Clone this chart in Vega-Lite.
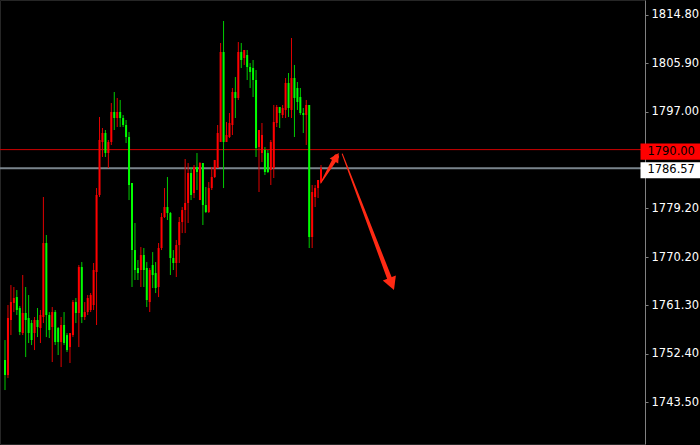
{
  "$schema": "https://vega.github.io/schema/vega-lite/v6.json",
  "width": 645,
  "height": 444,
  "autosize": {"type": "none"},
  "padding": {"left": 0, "top": 0, "right": 55, "bottom": 1},
  "background": "#000000",
  "config": {
    "view": {"stroke": "#262626"},
    "axisY": {
      "orient": "right", "title": null, "grid": false,
      "labelColor": "#ffffff", "labelFont": "DejaVu Sans", "labelFontSize": 11.5,
      "labelPadding": 3, "labelOverlap": false, "labelFlush": false, "labelBaseline": "middle",
      "tickColor": "#808080", "tickSize": 3, "tickWidth": 1,
      "domainColor": "#808080", "domainWidth": 1
    }
  },
  "datasets": {
    "candles": [
      {"i":0,"o":1751.24,"h":1754.92,"l":1745.71,"c":1748.47},
      {"i":1,"o":1748.47,"h":1761.37,"l":1747.92,"c":1758.98},
      {"i":2,"o":1758.61,"h":1765.05,"l":1755.84,"c":1761.92},
      {"i":3,"o":1761.74,"h":1764.69,"l":1760.08,"c":1762.66},
      {"i":4,"o":1762.84,"h":1764.13,"l":1759.53,"c":1760.45},
      {"i":5,"o":1760.82,"h":1761.19,"l":1755.84,"c":1756.40},
      {"i":6,"o":1756.21,"h":1766.90,"l":1755.84,"c":1759.90},
      {"i":7,"o":1759.90,"h":1764.69,"l":1751.79,"c":1758.61},
      {"i":8,"o":1758.98,"h":1763.21,"l":1754.37,"c":1756.21},
      {"i":9,"o":1758.05,"h":1758.61,"l":1754.00,"c":1754.92},
      {"i":10,"o":1756.21,"h":1759.16,"l":1753.08,"c":1758.61},
      {"i":11,"o":1758.61,"h":1760.82,"l":1755.47,"c":1757.32},
      {"i":12,"o":1757.13,"h":1760.45,"l":1754.37,"c":1759.53},
      {"i":13,"o":1759.16,"h":1781.27,"l":1758.05,"c":1772.79},
      {"i":14,"o":1772.79,"h":1774.27,"l":1755.47,"c":1759.53},
      {"i":15,"o":1759.53,"h":1760.08,"l":1755.29,"c":1756.76},
      {"i":16,"o":1757.32,"h":1761.00,"l":1750.87,"c":1760.08},
      {"i":17,"o":1760.08,"h":1760.45,"l":1754.00,"c":1754.55},
      {"i":18,"o":1757.13,"h":1757.32,"l":1752.16,"c":1754.55},
      {"i":19,"o":1754.55,"h":1759.16,"l":1749.95,"c":1757.69},
      {"i":20,"o":1757.69,"h":1760.08,"l":1754.00,"c":1754.37},
      {"i":21,"o":1755.84,"h":1756.21,"l":1752.71,"c":1753.08},
      {"i":22,"o":1753.63,"h":1756.21,"l":1750.69,"c":1756.21},
      {"i":23,"o":1755.84,"h":1762.29,"l":1755.47,"c":1761.92},
      {"i":24,"o":1761.92,"h":1762.66,"l":1758.05,"c":1759.90},
      {"i":25,"o":1759.90,"h":1768.74,"l":1753.63,"c":1768.37},
      {"i":26,"o":1768.37,"h":1769.29,"l":1758.05,"c":1759.16},
      {"i":27,"o":1759.16,"h":1761.92,"l":1758.61,"c":1760.08},
      {"i":28,"o":1760.08,"h":1763.21,"l":1759.53,"c":1762.66},
      {"i":29,"o":1760.45,"h":1763.58,"l":1760.08,"c":1763.21},
      {"i":30,"o":1761.37,"h":1769.11,"l":1760.45,"c":1767.82},
      {"i":31,"o":1767.45,"h":1782.92,"l":1757.69,"c":1781.64},
      {"i":32,"o":1781.64,"h":1796.01,"l":1781.27,"c":1791.77},
      {"i":33,"o":1791.40,"h":1793.98,"l":1788.64,"c":1793.06},
      {"i":34,"o":1793.06,"h":1793.61,"l":1788.64,"c":1789.37},
      {"i":35,"o":1789.37,"h":1791.77,"l":1786.61,"c":1791.40},
      {"i":36,"o":1791.40,"h":1798.58,"l":1790.85,"c":1796.93},
      {"i":37,"o":1796.93,"h":1800.61,"l":1793.61,"c":1795.82},
      {"i":38,"o":1795.82,"h":1799.51,"l":1794.16,"c":1796.93},
      {"i":39,"o":1796.93,"h":1799.14,"l":1794.16,"c":1795.82},
      {"i":40,"o":1795.82,"h":1796.37,"l":1794.16,"c":1794.53},
      {"i":41,"o":1794.53,"h":1795.45,"l":1791.21,"c":1792.32},
      {"i":42,"o":1792.32,"h":1793.24,"l":1780.71,"c":1783.48},
      {"i":43,"o":1783.85,"h":1783.85,"l":1764.69,"c":1771.50},
      {"i":44,"o":1771.50,"h":1776.48,"l":1765.98,"c":1767.82},
      {"i":45,"o":1768.19,"h":1769.66,"l":1765.98,"c":1767.26},
      {"i":46,"o":1767.82,"h":1772.06,"l":1764.69,"c":1770.58},
      {"i":47,"o":1770.58,"h":1771.87,"l":1764.69,"c":1767.82},
      {"i":48,"o":1768.19,"h":1769.29,"l":1761.00,"c":1762.29},
      {"i":49,"o":1761.92,"h":1768.19,"l":1760.08,"c":1767.82},
      {"i":50,"o":1768.74,"h":1771.13,"l":1764.50,"c":1766.90},
      {"i":51,"o":1767.26,"h":1769.29,"l":1763.58,"c":1764.50},
      {"i":52,"o":1764.69,"h":1772.79,"l":1762.84,"c":1771.87},
      {"i":53,"o":1771.87,"h":1778.32,"l":1771.50,"c":1777.58},
      {"i":54,"o":1777.58,"h":1782.92,"l":1777.40,"c":1779.42},
      {"i":55,"o":1779.42,"h":1784.95,"l":1777.03,"c":1778.32},
      {"i":56,"o":1778.32,"h":1778.50,"l":1766.90,"c":1770.03},
      {"i":57,"o":1770.03,"h":1771.50,"l":1767.82,"c":1769.11},
      {"i":58,"o":1769.11,"h":1773.35,"l":1766.53,"c":1772.42},
      {"i":59,"o":1772.42,"h":1777.58,"l":1769.11,"c":1776.66},
      {"i":60,"o":1776.66,"h":1779.42,"l":1774.63,"c":1778.87},
      {"i":61,"o":1778.87,"h":1788.27,"l":1774.63,"c":1780.16},
      {"i":62,"o":1780.16,"h":1787.53,"l":1776.48,"c":1785.69},
      {"i":63,"o":1785.69,"h":1786.79,"l":1780.71,"c":1781.64},
      {"i":64,"o":1782.00,"h":1787.16,"l":1781.08,"c":1786.79},
      {"i":65,"o":1786.79,"h":1789.37,"l":1782.56,"c":1785.87},
      {"i":66,"o":1780.71,"h":1787.71,"l":1780.71,"c":1787.53},
      {"i":67,"o":1787.53,"h":1787.53,"l":1776.11,"c":1779.79},
      {"i":68,"o":1779.79,"h":1783.11,"l":1778.32,"c":1778.50},
      {"i":69,"o":1778.50,"h":1784.03,"l":1778.32,"c":1782.92},
      {"i":70,"o":1782.92,"h":1786.79,"l":1782.56,"c":1784.95},
      {"i":71,"o":1784.95,"h":1788.08,"l":1784.77,"c":1788.08},
      {"i":72,"o":1786.61,"h":1794.53,"l":1786.61,"c":1793.06},
      {"i":73,"o":1791.40,"h":1809.64,"l":1791.40,"c":1807.98},
      {"i":74,"o":1807.98,"h":1813.69,"l":1782.92,"c":1791.40},
      {"i":75,"o":1791.40,"h":1795.08,"l":1791.40,"c":1792.69},
      {"i":76,"o":1792.32,"h":1796.74,"l":1792.14,"c":1794.90},
      {"i":77,"o":1794.53,"h":1801.35,"l":1792.69,"c":1800.61},
      {"i":78,"o":1800.61,"h":1803.37,"l":1795.82,"c":1799.51},
      {"i":79,"o":1799.51,"h":1809.82,"l":1799.14,"c":1807.98},
      {"i":80,"o":1807.98,"h":1809.64,"l":1805.03,"c":1806.51},
      {"i":81,"o":1806.87,"h":1808.35,"l":1805.59,"c":1808.35},
      {"i":82,"o":1807.43,"h":1808.35,"l":1802.82,"c":1805.22},
      {"i":83,"o":1805.22,"h":1805.95,"l":1801.35,"c":1804.30},
      {"i":84,"o":1805.03,"h":1806.51,"l":1799.69,"c":1802.82},
      {"i":85,"o":1802.82,"h":1804.66,"l":1788.64,"c":1790.29},
      {"i":86,"o":1790.48,"h":1793.61,"l":1782.19,"c":1793.61},
      {"i":87,"o":1789.37,"h":1794.90,"l":1787.71,"c":1792.69},
      {"i":88,"o":1789.93,"h":1790.48,"l":1785.32,"c":1785.87},
      {"i":89,"o":1789.37,"h":1789.93,"l":1785.69,"c":1785.87},
      {"i":90,"o":1786.24,"h":1791.77,"l":1783.48,"c":1791.40},
      {"i":91,"o":1786.61,"h":1798.22,"l":1784.77,"c":1795.08},
      {"i":92,"o":1794.90,"h":1798.22,"l":1794.16,"c":1797.85},
      {"i":93,"o":1797.85,"h":1797.85,"l":1793.98,"c":1796.74},
      {"i":94,"o":1796.37,"h":1798.22,"l":1795.82,"c":1797.66},
      {"i":95,"o":1797.30,"h":1803.19,"l":1795.82,"c":1802.27},
      {"i":96,"o":1802.27,"h":1804.11,"l":1796.01,"c":1797.66},
      {"i":97,"o":1797.30,"h":1810.56,"l":1795.82,"c":1803.19},
      {"i":98,"o":1803.19,"h":1805.59,"l":1792.32,"c":1799.51},
      {"i":99,"o":1801.35,"h":1802.45,"l":1797.30,"c":1798.77},
      {"i":100,"o":1799.69,"h":1801.35,"l":1796.37,"c":1796.74},
      {"i":101,"o":1796.74,"h":1797.66,"l":1793.06,"c":1796.37},
      {"i":102,"o":1796.37,"h":1799.14,"l":1790.85,"c":1798.22},
      {"i":103,"o":1798.22,"h":1798.22,"l":1771.87,"c":1773.90},
      {"i":104,"o":1773.90,"h":1783.48,"l":1771.87,"c":1782.19},
      {"i":105,"o":1781.27,"h":1783.48,"l":1779.42,"c":1782.92},
      {"i":106,"o":1782.92,"h":1784.40,"l":1781.08,"c":1784.40},
      {"i":107,"o":1784.03,"h":1787.16,"l":1783.85,"c":1786.57}
    ],
    "levels": [
      {"price": 1790.00, "kind": "alert"},
      {"price": 1786.57, "kind": "bid"}
    ],
    "arrows": [
      {"arrow": "small", "pt": "tail", "i": 106.9, "price": 1783.85},
      {"arrow": "small", "pt": "head", "i": 112.2, "price": 1788.67},
      {"arrow": "big", "pt": "tail", "i": 114.2, "price": 1789.19},
      {"arrow": "big", "pt": "head", "i": 130.9, "price": 1765.26}
    ],
    "tips": [
      {"arrow": "small", "i": 113.0, "price": 1789.37},
      {"arrow": "big", "i": 131.7, "price": 1764.13}
    ]
  },
  "layer": [
    {
      "data": {"name": "levels"},
      "transform": [{"filter": "datum.kind === 'alert'"}],
      "mark": {"type": "rule", "color": "#d00000", "strokeWidth": 1},
      "encoding": {
        "y": {"field": "price", "type": "quantitative", "title": null, "scale": {"domain": [1735.77, 1817.56], "nice": false, "zero": false},
              "axis": {"values": [1814.8, 1805.9, 1797.0, 1779.2, 1770.2, 1761.3, 1752.4, 1743.5], "format": ".2f"}}
      }
    },
    {
      "data": {"name": "levels"},
      "transform": [{"filter": "datum.kind === 'bid'"}],
      "mark": {"type": "rule", "color": "#7a848c", "strokeWidth": 2},
      "encoding": {
        "y": {"field": "price", "type": "quantitative", "title": null, "scale": {"domain": [1735.77, 1817.56], "nice": false, "zero": false},
              "axis": {"values": [1814.8, 1805.9, 1797.0, 1779.2, 1770.2, 1761.3, 1752.4, 1743.5], "format": ".2f"}}
      }
    },
    {
      "data": {"name": "candles"},
      "mark": {"type": "rule", "strokeWidth": 1},
      "encoding": {
        "x": {"field": "i", "type": "quantitative", "scale": {"domain": [0, 215], "nice": false, "zero": false}, "axis": null},
        "y": {"field": "l", "type": "quantitative", "title": null, "scale": {"domain": [1735.77, 1817.56], "nice": false, "zero": false},
              "axis": {"values": [1814.8, 1805.9, 1797.0, 1779.2, 1770.2, 1761.3, 1752.4, 1743.5], "format": ".2f"}},
        "y2": {"field": "h"},
        "color": {"condition": {"test": "datum.c > datum.o", "value": "#e00000"}, "value": "#00cc00"}
      }
    },
    {
      "data": {"name": "candles"},
      "mark": {"type": "bar", "width": 2},
      "encoding": {
        "x": {"field": "i", "type": "quantitative", "scale": {"domain": [0, 215], "nice": false, "zero": false}, "axis": null},
        "y": {"field": "o", "type": "quantitative", "title": null, "scale": {"domain": [1735.77, 1817.56], "nice": false, "zero": false},
              "axis": {"values": [1814.8, 1805.9, 1797.0, 1779.2, 1770.2, 1761.3, 1752.4, 1743.5], "format": ".2f"}},
        "y2": {"field": "c"},
        "color": {"condition": {"test": "datum.c > datum.o", "value": "#ff0000"}, "value": "#00ff00"}
      }
    },
    {
      "data": {"name": "arrows"},
      "mark": {"type": "trail", "color": "#ff2a14"},
      "encoding": {
        "x": {"field": "i", "type": "quantitative", "scale": {"domain": [0, 215], "nice": false, "zero": false}, "axis": null},
        "y": {"field": "price", "type": "quantitative", "title": null, "scale": {"domain": [1735.77, 1817.56], "nice": false, "zero": false},
              "axis": {"values": [1814.8, 1805.9, 1797.0, 1779.2, 1770.2, 1761.3, 1752.4, 1743.5], "format": ".2f"}},
        "size": {"field": "pt", "type": "ordinal", "scale": {"domain": ["tail", "head"], "range": [1, 5]}, "legend": null},
        "detail": {"field": "arrow"}
      }
    },
    {
      "data": {"name": "tips"},
      "transform": [{"filter": "datum.arrow === 'small'"}],
      "mark": {"type": "point", "filled": true, "opacity": 1, "color": "#ff2a14", "shape": "M0,0L-1,1.85L1,1.85Z", "size": 100, "angle": 31},
      "encoding": {
        "x": {"field": "i", "type": "quantitative", "scale": {"domain": [0, 215], "nice": false, "zero": false}, "axis": null},
        "y": {"field": "price", "type": "quantitative", "title": null, "scale": {"domain": [1735.77, 1817.56], "nice": false, "zero": false},
              "axis": {"values": [1814.8, 1805.9, 1797.0, 1779.2, 1770.2, 1761.3, 1752.4, 1743.5], "format": ".2f"}}
      }
    },
    {
      "data": {"name": "tips"},
      "transform": [{"filter": "datum.arrow === 'big'"}],
      "mark": {"type": "point", "filled": true, "opacity": 1, "color": "#ff2a14", "shape": "M0,0L-1,1.85L1,1.85Z", "size": 196, "angle": 159},
      "encoding": {
        "x": {"field": "i", "type": "quantitative", "scale": {"domain": [0, 215], "nice": false, "zero": false}, "axis": null},
        "y": {"field": "price", "type": "quantitative", "title": null, "scale": {"domain": [1735.77, 1817.56], "nice": false, "zero": false},
              "axis": {"values": [1814.8, 1805.9, 1797.0, 1779.2, 1770.2, 1761.3, 1752.4, 1743.5], "format": ".2f"}}
      }
    },
    {
      "data": {"name": "levels"},
      "mark": {"type": "point", "filled": true, "opacity": 1, "shape": "M-1,-0.27L1,-0.27L1,0.27L-1,0.27Z", "size": 3600, "yOffset": 2},
      "encoding": {
        "x": {"datum": 225.33, "type": "quantitative", "scale": {"domain": [0, 215], "nice": false, "zero": false}, "axis": null},
        "y": {"field": "price", "type": "quantitative", "title": null, "scale": {"domain": [1735.77, 1817.56], "nice": false, "zero": false},
              "axis": {"values": [1814.8, 1805.9, 1797.0, 1779.2, 1770.2, 1761.3, 1752.4, 1743.5], "format": ".2f"}},
        "color": {"condition": {"test": "datum.kind === 'alert'", "value": "#ff0000"}, "value": "#ffffff"}
      }
    },
    {
      "data": {"name": "levels"},
      "mark": {"type": "text", "align": "left", "baseline": "middle", "font": "DejaVu Sans", "fontSize": 11.5, "color": "#000000", "yOffset": 2},
      "encoding": {
        "x": {"datum": 217.5, "type": "quantitative", "scale": {"domain": [0, 215], "nice": false, "zero": false}, "axis": null},
        "y": {"field": "price", "type": "quantitative", "title": null, "scale": {"domain": [1735.77, 1817.56], "nice": false, "zero": false},
              "axis": {"values": [1814.8, 1805.9, 1797.0, 1779.2, 1770.2, 1761.3, 1752.4, 1743.5], "format": ".2f"}},
        "text": {"field": "price", "type": "quantitative", "format": ".2f"}
      }
    }
  ]
}
